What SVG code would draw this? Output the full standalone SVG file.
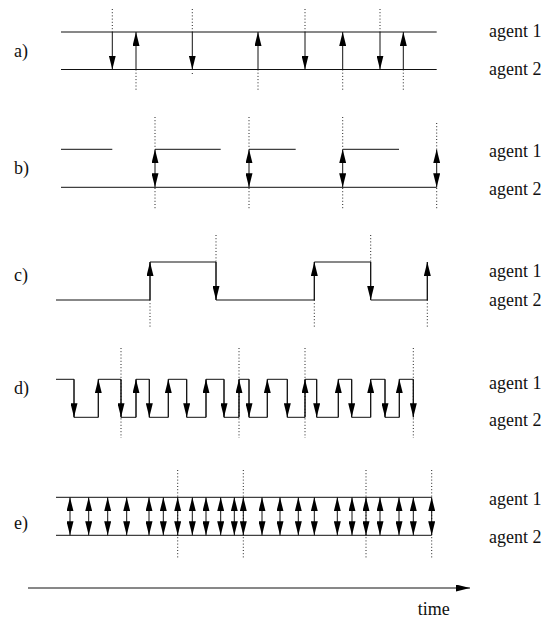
<svg xmlns="http://www.w3.org/2000/svg" width="552" height="619" viewBox="0 0 552 619">
<style>
.ln{stroke:#111;stroke-width:1;fill:none}
.ar{stroke:#111;stroke-width:1;fill:none;marker-end:url(#ah)}
.da{stroke:#111;stroke-width:1;fill:none;marker-end:url(#ah);marker-start:url(#ah)}
.dt{stroke:#222;stroke-width:1;stroke-dasharray:1 2.2;fill:none}
text{font-family:"Liberation Serif","Times New Roman",serif;font-size:18px;fill:#111}
</style>
<defs>
<marker id="ah" viewBox="0 0 14 7" refX="14" refY="3.5" markerWidth="14" markerHeight="7" markerUnits="userSpaceOnUse" orient="auto-start-reverse"><path d="M0,0L14,3.5L0,7z" fill="#000"/></marker>
</defs>
<rect width="552" height="619" fill="#fff"/>

<g id="panel-a">
<text x="14" y="56.5">a)</text>
<text x="489" y="37.3">agent 1</text>
<text x="489" y="75">agent 2</text>
<path class="ln" d="M61,32H436.7M61,69.5H436.7"/>
<g class="dotted">
<path class="dt" d="M112.3,9V32M192.3,9V32M305,9V32M380,9V32"/>
<path class="dt" d="M136,69.5V90M258,69.5V90M342.7,69.5V90M403.3,69.5V90M192.3,73V75"/>
</g>
</g>

<g id="panel-b">
<text x="14" y="174">b)</text>
<text x="489" y="157.3">agent 1</text>
<text x="489" y="195">agent 2</text>
<path class="ln" d="M61,187.3H436.7M61,149.3H112.3M155,149.3H220.7M249,149.3H295.7M342.7,149.3H399"/>
<path class="dt" d="M155,117V149M155,188V209M249,117V149M249,188V209M342.7,117V149M342.7,188V209M436.7,123V149M436.7,188V210"/>
</g>

<g id="panel-c">
<text x="14" y="281">c)</text>
<text x="489" y="277">agent 1</text>
<text x="489" y="306">agent 2</text>
<path class="ln" d="M56,300H150V262H216V300H314.3V262H370.7V300H427.3V262"/>
<path class="dt" d="M150,300V327M314.3,300V327M427.3,300V327M216,235V262M370.7,235V262"/>
</g>

<g id="panel-d">
<text x="14" y="394">d)</text>
<text x="489" y="389">agent 1</text>
<text x="489" y="426">agent 2</text>
<path class="ln" d="M56,379.3H74V417.3H98.3V379.3H121V417.3H136V379.3H149.3V417.3H168.3V379.3H186.7V417.3H206V379.3H224V417.3H239V379.3H249V417.3H267.3V379.3H287.3V417.3H305V379.3H316.7V417.3H338.3V379.3H351.7V417.3H370.7V379.3H385V417.3H399.3V379.3H413.3V417.3"/>
<path class="dt" d="M121,348V438M239,348V438M305,348V438M413.3,348V438"/>
</g>

<g id="panel-e">
<text x="14" y="529">e)</text>
<text x="489" y="505">agent 1</text>
<text x="489" y="543">agent 2</text>
<path class="ln" d="M56,497.3H431.7M56,535.3H431.7"/>
<path class="dt" d="M177.7,470V559M243.3,470V559M366,470V559M431.7,470V559"/>
</g>

<g id="time-axis">
<line class="ar" x1="28" y1="588" x2="470" y2="588"/>
<text x="417.7" y="615">time</text>
</g>

<g id="connectors">
<!-- a) -->
<line class="ar" x1="112.3" y1="32" x2="112.3" y2="69.5"/>
<line class="ar" x1="136" y1="69.5" x2="136" y2="32"/>
<line class="ar" x1="192.3" y1="32" x2="192.3" y2="69.5"/>
<line class="ar" x1="258" y1="69.5" x2="258" y2="32"/>
<line class="ar" x1="305" y1="32" x2="305" y2="69.5"/>
<line class="ar" x1="342.7" y1="69.5" x2="342.7" y2="32"/>
<line class="ar" x1="380" y1="32" x2="380" y2="69.5"/>
<line class="ar" x1="403.3" y1="69.5" x2="403.3" y2="32"/>
<!-- b) -->
<line class="da" x1="155" y1="149.3" x2="155" y2="187.3"/>
<line class="da" x1="249" y1="149.3" x2="249" y2="187.3"/>
<line class="da" x1="342.7" y1="149.3" x2="342.7" y2="187.3"/>
<line class="da" x1="436.7" y1="149.3" x2="436.7" y2="187.3"/>
<!-- c) -->
<line class="ar" x1="150" y1="300" x2="150" y2="262"/>
<line class="ar" x1="216" y1="262" x2="216" y2="300"/>
<line class="ar" x1="314.3" y1="300" x2="314.3" y2="262"/>
<line class="ar" x1="370.7" y1="262" x2="370.7" y2="300"/>
<line class="ar" x1="427.3" y1="300" x2="427.3" y2="262"/>
<!-- d) -->
<line class="ar" x1="74" y1="379.3" x2="74" y2="417.3"/>
<line class="ar" x1="98.3" y1="417.3" x2="98.3" y2="379.3"/>
<line class="ar" x1="121" y1="379.3" x2="121" y2="417.3"/>
<line class="ar" x1="136" y1="417.3" x2="136" y2="379.3"/>
<line class="ar" x1="149.3" y1="379.3" x2="149.3" y2="417.3"/>
<line class="ar" x1="168.3" y1="417.3" x2="168.3" y2="379.3"/>
<line class="ar" x1="186.7" y1="379.3" x2="186.7" y2="417.3"/>
<line class="ar" x1="206" y1="417.3" x2="206" y2="379.3"/>
<line class="ar" x1="224" y1="379.3" x2="224" y2="417.3"/>
<line class="ar" x1="239" y1="417.3" x2="239" y2="379.3"/>
<line class="ar" x1="249" y1="379.3" x2="249" y2="417.3"/>
<line class="ar" x1="267.3" y1="417.3" x2="267.3" y2="379.3"/>
<line class="ar" x1="287.3" y1="379.3" x2="287.3" y2="417.3"/>
<line class="ar" x1="305" y1="417.3" x2="305" y2="379.3"/>
<line class="ar" x1="316.7" y1="379.3" x2="316.7" y2="417.3"/>
<line class="ar" x1="338.3" y1="417.3" x2="338.3" y2="379.3"/>
<line class="ar" x1="351.7" y1="379.3" x2="351.7" y2="417.3"/>
<line class="ar" x1="370.7" y1="417.3" x2="370.7" y2="379.3"/>
<line class="ar" x1="385" y1="379.3" x2="385" y2="417.3"/>
<line class="ar" x1="399.3" y1="417.3" x2="399.3" y2="379.3"/>
<line class="ar" x1="413.3" y1="379.3" x2="413.3" y2="417.3"/>
<!-- e) -->
<line class="da" x1="70" y1="497.3" x2="70" y2="535.3"/>
<line class="da" x1="88.7" y1="497.3" x2="88.7" y2="535.3"/>
<line class="da" x1="107.7" y1="497.3" x2="107.7" y2="535.3"/>
<line class="da" x1="126.7" y1="497.3" x2="126.7" y2="535.3"/>
<line class="da" x1="149" y1="497.3" x2="149" y2="535.3"/>
<line class="da" x1="163.3" y1="497.3" x2="163.3" y2="535.3"/>
<line class="da" x1="177.7" y1="497.3" x2="177.7" y2="535.3"/>
<line class="da" x1="192.3" y1="497.3" x2="192.3" y2="535.3"/>
<line class="da" x1="206" y1="497.3" x2="206" y2="535.3"/>
<line class="da" x1="220.7" y1="497.3" x2="220.7" y2="535.3"/>
<line class="da" x1="234.3" y1="497.3" x2="234.3" y2="535.3"/>
<line class="da" x1="243.3" y1="497.3" x2="243.3" y2="535.3"/>
<line class="da" x1="262" y1="497.3" x2="262" y2="535.3"/>
<line class="da" x1="280" y1="497.3" x2="280" y2="535.3"/>
<line class="da" x1="298.3" y1="497.3" x2="298.3" y2="535.3"/>
<line class="da" x1="314.3" y1="497.3" x2="314.3" y2="535.3"/>
<line class="da" x1="337.3" y1="497.3" x2="337.3" y2="535.3"/>
<line class="da" x1="352" y1="497.3" x2="352" y2="535.3"/>
<line class="da" x1="366" y1="497.3" x2="366" y2="535.3"/>
<line class="da" x1="380" y1="497.3" x2="380" y2="535.3"/>
<line class="da" x1="399" y1="497.3" x2="399" y2="535.3"/>
<line class="da" x1="413.3" y1="497.3" x2="413.3" y2="535.3"/>
<line class="da" x1="431.7" y1="497.3" x2="431.7" y2="535.3"/>
</g>
</svg>
